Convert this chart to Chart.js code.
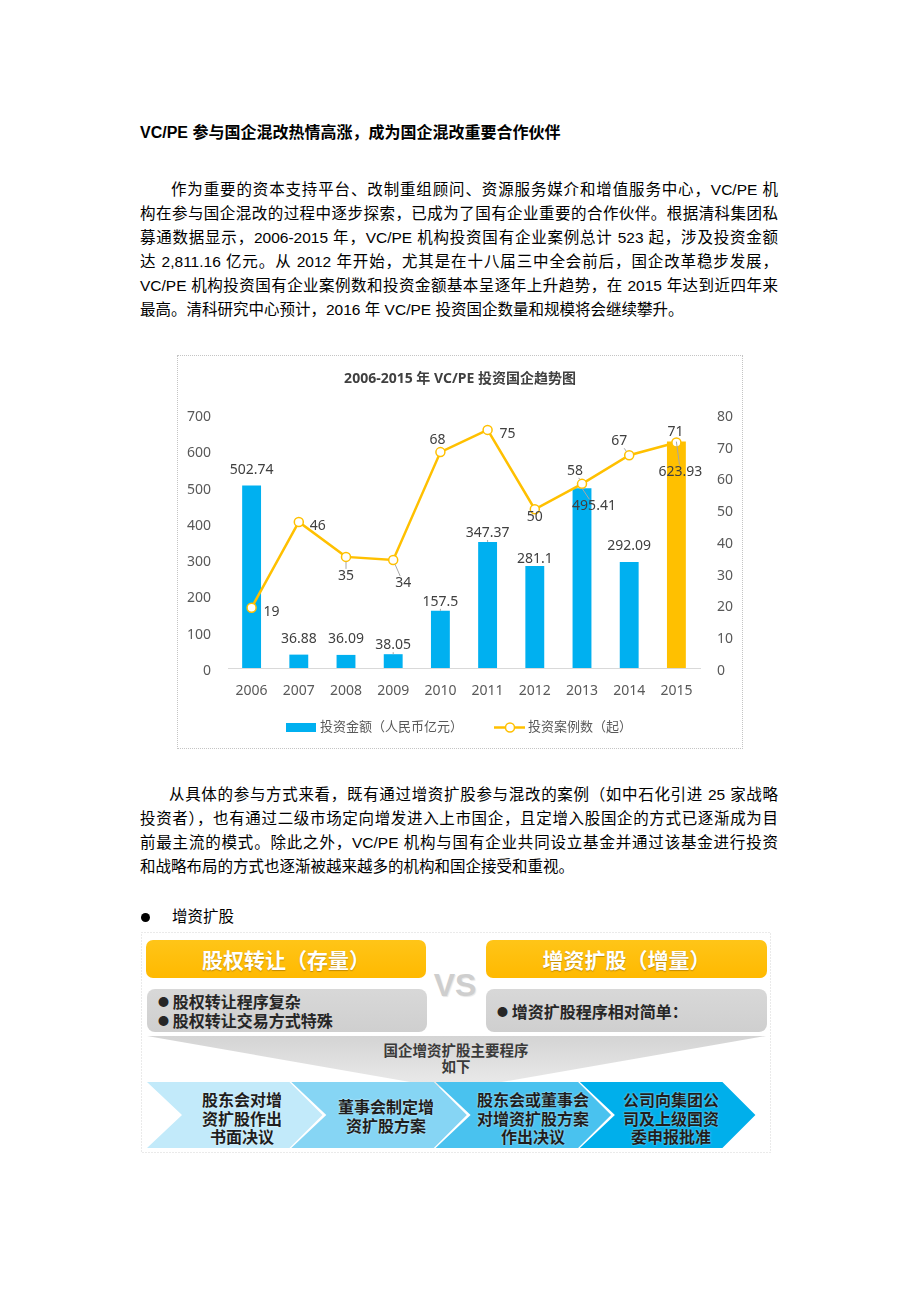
<!DOCTYPE html>
<html lang="zh-CN">
<head>
<meta charset="utf-8">
<title>2006-2015 年 VC/PE 投资国企趋势图</title>
<script src="https://cdn.jsdelivr.net/npm/chart.js@4.4.1/dist/chart.umd.min.js"></script>
<style>
html,body{margin:0;padding:0;background:#fff;}
body{width:920px;height:1302px;position:relative;overflow:hidden;
  font-family:"Liberation Sans","Noto Sans CJK SC",sans-serif;color:#000;}
.ln{position:absolute;left:140px;width:638px;height:24px;line-height:24px;font-size:15.5px;box-sizing:border-box;white-space:normal;}
.j{text-align:justify;text-align-last:justify;}
.ind{padding-left:31px;}
.h{font-weight:bold;font-size:16px;}
#chartBox{position:absolute;left:177px;top:355px;width:564px;height:392px;border:1px dotted #c4c4c4;}
#chartBox canvas{display:block;}
svg.shapes{position:absolute;left:0;top:0;}
.t{position:absolute;font-family:"Noto Sans CJK SC",sans-serif;}
.hdr{color:#fff;font-weight:bold;font-size:21px;text-align:center;line-height:38px;height:38px;
  text-shadow:0 1px 1px rgba(120,80,0,.45);}
.gt{color:#262626;font-weight:bold;font-size:16px;line-height:19px;}
.ch{color:#1e1e1e;font-weight:bold;font-size:16px;line-height:18.5px;text-align:center;width:150px;
  text-shadow:0 0 2px rgba(255,255,255,.7);}
.dot{position:absolute;width:9px;height:9px;border-radius:50%;background:#000;}
</style>
</head>
<body>

<svg class="shapes" width="920" height="1302">
  <defs>
    <linearGradient id="gOr" x1="0" y1="0" x2="0" y2="1">
      <stop offset="0" stop-color="#FFC518"/><stop offset="1" stop-color="#FFB900"/>
    </linearGradient>
    <linearGradient id="gGr" x1="0" y1="0" x2="0" y2="1">
      <stop offset="0" stop-color="#D8D8D8"/><stop offset="1" stop-color="#CFCFCF"/>
    </linearGradient>
    <linearGradient id="gTri" x1="0" y1="0" x2="0" y2="1">
      <stop offset="0" stop-color="#D4D4D4"/><stop offset="1" stop-color="#ECECEC"/>
    </linearGradient>
  </defs>
  <rect x="141.5" y="932.5" width="629" height="220" fill="none" stroke="#d4d4d4" stroke-dasharray="1 2"/>
  <rect x="146" y="940" width="280" height="38" rx="7" fill="url(#gOr)"/>
  <rect x="486" y="940" width="281" height="38" rx="7" fill="url(#gOr)"/>
  <rect x="147" y="989" width="280" height="43" rx="8" fill="url(#gGr)"/>
  <rect x="486" y="989" width="281" height="43" rx="8" fill="url(#gGr)"/>
  <polygon points="147,1036 766,1036 456,1090" fill="url(#gTri)"/>
  <polygon points="147,1082 289.5,1082 322.5,1115 289.5,1148 147,1148 182,1115" fill="#C2EAFA"/>
  <polygon points="291.3,1082 433.8,1082 466.8,1115 433.8,1148 291.3,1148 326.3,1115" fill="#86D5F4"/>
  <polygon points="435.6,1082 578.1,1082 611.1,1115 578.1,1148 435.6,1148 470.6,1115" fill="#49C2EF"/>
  <polygon points="579.9,1082 722.4,1082 755.4,1115 722.4,1148 579.9,1148 614.9,1115" fill="#00AFEB"/>
</svg>

<div class="ln h" style="top:121px;">VC/PE 参与国企混改热情高涨，成为国企混改重要合作伙伴</div>

<div class="ln j ind" style="top:178px;">作为重要的资本支持平台、改制重组顾问、资源服务媒介和增值服务中心，VC/PE 机</div>
<div class="ln j" style="top:202px;">构在参与国企混改的过程中逐步探索，已成为了国有企业重要的合作伙伴。根据清科集团私</div>
<div class="ln j" style="top:226px;">募通数据显示，2006-2015 年，VC/PE 机构投资国有企业案例总计 523 起，涉及投资金额</div>
<div class="ln j" style="top:250px;">达 2,811.16 亿元。从 2012 年开始，尤其是在十八届三中全会前后，国企改革稳步发展，</div>
<div class="ln j" style="top:274px;">VC/PE 机构投资国有企业案例数和投资金额基本呈逐年上升趋势，在 2015 年达到近四年来</div>
<div class="ln" style="top:298px;">最高。清科研究中心预计，2016 年 VC/PE 投资国企数量和规模将会继续攀升。</div>

<div id="chartBox"><canvas id="c" width="564" height="392"></canvas></div>

<div class="ln j" style="top:783px;padding-left:29px;">从具体的参与方式来看，既有通过增资扩股参与混改的案例（如中石化引进 25 家战略</div>
<div class="ln j" style="top:807px;">投资者），也有通过二级市场定向增发进入上市国企，且定增入股国企的方式已逐渐成为目</div>
<div class="ln j" style="top:831px;">前最主流的模式。除此之外，VC/PE 机构与国有企业共同设立基金并通过该基金进行投资</div>
<div class="ln" style="top:855px;">和战略布局的方式也逐渐被越来越多的机构和国企接受和重视。</div>

<div class="dot" style="left:141px;top:913px;"></div>
<div class="ln" style="top:905px;left:172px;width:200px;">增资扩股</div>

<div class="t hdr" style="left:146px;top:940px;width:280px;">股权转让（存量）</div>
<div class="t hdr" style="left:486px;top:940px;width:281px;">增资扩股（增量）</div>
<div class="t" style="left:427px;top:965px;width:56px;text-align:center;font-family:'Liberation Sans',sans-serif;font-weight:bold;font-size:32px;line-height:40px;color:#CECECE;text-shadow:1px 1px 1px #e6e6e6;">VS</div>

<div class="t gt" style="left:158px;top:992px;width:260px;"><span style="font-size:11px;vertical-align:2px;">●</span>&nbsp;股权转让程序复杂<br><span style="font-size:11px;vertical-align:2px;">●</span>&nbsp;股权转让交易方式特殊</div>
<div class="t gt" style="left:497px;top:1002px;width:260px;"><span style="font-size:11px;vertical-align:2px;">●</span>&nbsp;增资扩股程序相对简单：</div>

<div class="t" style="left:356px;top:1042px;width:200px;text-align:center;font-weight:bold;font-size:14.5px;line-height:16px;color:#3a3a3a;">国企增资扩股主要程序<br>如下</div>

<div class="t ch" style="left:167px;top:1090px;">股东会对增<br>资扩股作出<br>书面决议</div>
<div class="t ch" style="left:311px;top:1097px;">董事会制定增<br>资扩股方案</div>
<div class="t ch" style="left:458px;top:1090px;">股东会或董事会<br>对增资扩股方案<br>作出决议</div>
<div class="t ch" style="left:596px;top:1090px;">公司向集团公<br>司及上级国资<br>委申报批准</div>

<script>
// ---- data ----
const years = ['2006','2007','2008','2009','2010','2011','2012','2013','2014','2015'];
const investAmount = [502.74, 36.88, 36.09, 38.05, 157.5, 347.37, 281.1, 495.41, 292.09, 623.93];
const dealCount = [19, 46, 35, 34, 68, 75, 50, 58, 67, 71];
const seriesNames = ['投资金额（人民币亿元）', '投资案例数（起）'];
const chartTitle = '2006-2015 年 VC/PE 投资国企趋势图';
const highlightYear = '2015';

// ---- label placement (style) ----
const barLabelOffsets = [[0,-16],[0,-16],[0,-16],[0,-9],[0,-9],[0,-9],[0,-7],[12,18],[0,-16],[4,30]];
const barLeaders = [0,0,0,1,1,1,0,1,0,1];
const lineLabelOffsets = [[20,4],[19,4],[0,19],[10,23],[-3,-12],[20,4],[0,8],[-7,-13],[-10,-14],[-1,-11]];
const lineLeaders = [0,0,1,1,1,0,0,1,1,1];

const FONT = "'Noto Sans', 'Noto Sans CJK SC', sans-serif";
const BLUE = '#00B0F0', GOLD = '#FFC000';

const labelPlugin = {
  id: 'valueLabels',
  afterDatasetsDraw(chart) {
    const ctx = chart.ctx;
    ctx.save();
    ctx.font = '14px ' + FONT;
    ctx.textAlign = 'center';
    ctx.textBaseline = 'middle';
    const drawSet = (dsIndex, values, offsets, leaders, r0) => {
      const meta = chart.getDatasetMeta(dsIndex);
      meta.data.forEach((el, i) => {
        const txt = String(values[i]);
        const lx = el.x + offsets[i][0], ly = el.y + offsets[i][1];
        if (leaders[i]) {
          const w = ctx.measureText(txt).width / 2 + 1, h = 7;
          const dx = el.x - lx, dy = el.y - ly;
          const len = Math.hypot(dx, dy);
          if (len > 0) {
            const t = Math.min(dx !== 0 ? w / Math.abs(dx) : Infinity, dy !== 0 ? h / Math.abs(dy) : Infinity);
            const sx = lx + dx * t, sy = ly + dy * t;
            const ex = el.x - dx / len * r0, ey = el.y - dy / len * r0;
            if (t < 1 && Math.hypot(ex - sx, ey - sy) > 1.5) {
              ctx.strokeStyle = '#A6A6A6';
              ctx.lineWidth = 1;
              ctx.beginPath(); ctx.moveTo(sx, sy); ctx.lineTo(ex, ey); ctx.stroke();
            }
          }
        }
        ctx.fillStyle = '#404040';
        ctx.fillText(txt, lx, ly);
      });
    };
    drawSet(1, investAmount, barLabelOffsets, barLeaders, 0);
    drawSet(0, dealCount, lineLabelOffsets, lineLeaders, 5);
    ctx.restore();
  }
};

const legendPlugin = {
  id: 'customLegend',
  afterDraw(chart) {
    const ctx = chart.ctx;
    const y = 371.5;
    ctx.save();
    ctx.fillStyle = BLUE;
    ctx.fillRect(108, 367, 30, 9);
    ctx.font = '13px ' + FONT;
    ctx.fillStyle = '#595959';
    ctx.textAlign = 'left';
    ctx.textBaseline = 'middle';
    ctx.fillText(seriesNames[0], 142, y);
    ctx.strokeStyle = GOLD;
    ctx.lineWidth = 2.5;
    ctx.beginPath(); ctx.moveTo(316, y); ctx.lineTo(347, y); ctx.stroke();
    ctx.beginPath(); ctx.arc(332, y, 4.5, 0, Math.PI * 2);
    ctx.fillStyle = '#fff'; ctx.fill();
    ctx.lineWidth = 1.5; ctx.stroke();
    ctx.fillStyle = '#595959';
    ctx.fillText(seriesNames[1], 350, y);
    ctx.restore();
  }
};

const tickFont = { family: FONT, size: 14 };

new Chart(document.getElementById('c'), {
  data: {
    labels: years,
    datasets: [
      {
        type: 'line', label: seriesNames[1], data: dealCount, yAxisID: 'y1',
        borderColor: GOLD, borderWidth: 2.5, tension: 0,
        pointRadius: 4.5, pointBackgroundColor: '#fff', pointBorderColor: GOLD, pointBorderWidth: 1.5,
        order: 0
      },
      {
        type: 'bar', label: seriesNames[0], data: investAmount, yAxisID: 'y',
        backgroundColor: years.map(y => y === highlightYear ? GOLD : BLUE),
        barPercentage: 0.4, categoryPercentage: 1.0,
        order: 1
      }
    ]
  },
  options: {
    responsive: false, animation: false, devicePixelRatio: 1,
    layout: { padding: 0 },
    plugins: {
      legend: { display: false },
      tooltip: { enabled: false },
      title: {
        display: true, text: chartTitle, color: '#404040',
        font: { family: FONT, size: 14, weight: 'bold' },
        padding: { top: 14.6, bottom: 26.6 }
      }
    },
    scales: {
      x: {
        grid: { display: false, drawTicks: false },
        border: { display: true, color: '#D9D9D9', width: 1 },
        ticks: { color: '#595959', font: tickFont, padding: 15, maxRotation: 0 },
        afterFit(s) { s.height = 80; }
      },
      y: {
        position: 'left', min: 0, max: 700,
        grid: { display: false, drawTicks: false },
        border: { display: false },
        ticks: { stepSize: 100, color: '#595959', font: tickFont, padding: 17, labelOffset: 3 },
        afterFit(s) { s.width = 50; }
      },
      y1: {
        position: 'right', min: 0, max: 80,
        grid: { display: false, drawTicks: false },
        border: { display: false },
        ticks: { stepSize: 10, color: '#595959', font: tickFont, padding: 17, labelOffset: 3 },
        afterFit(s) { s.width = 42; }
      }
    }
  },
  plugins: [labelPlugin, legendPlugin]
});
</script>
</body>
</html>
